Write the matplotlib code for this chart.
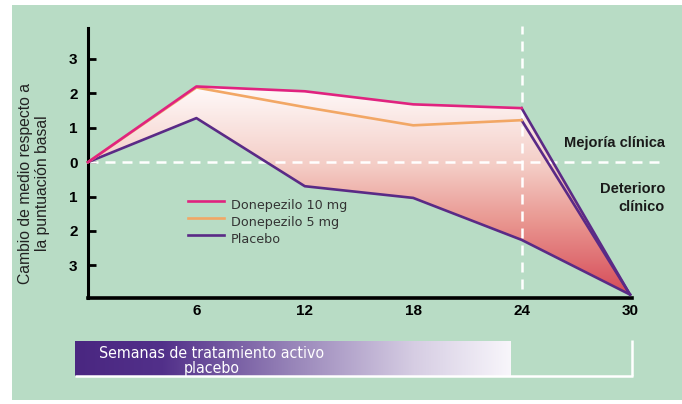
import numpy as np
import matplotlib
matplotlib.use("Agg")
import matplotlib.pyplot as plt
from matplotlib.colors import LinearSegmentedColormap
from matplotlib.patches import Rectangle
from matplotlib.legend_handler import HandlerLine2D

# ---- data ----
weeks = [0, 6, 12, 18, 24, 30]
don10 = [0, 2.2, 2.06, 1.68, 1.57, -3.85]
don5 = [0, 2.17, 1.6, 1.07, 1.22, -3.85]
placebo = [0, 1.28, -0.7, -1.04, -2.26, -3.85]
series_names = ["Donepezilo 10 mg", "Donepezilo 5 mg", "Placebo"]
ytick_vals = [3, 2, 1, 0, -1, -2, -3]
ytick_labels = ["3", "2", "1", "0", "1", "2", "3"]
xtick_vals = [6, 12, 18, 24, 30]
xtick_labels = ["6", "12", "18", "24", "30"]
active_end = 24

C10 = "#e0237f"
C5 = "#f2a765"
CP = "#5a2a86"
GREEN = "#b8dcc5"


class RaisedLineHandler(HandlerLine2D):
    """Legend line drawn a little above the text centre, as in the original."""
    def create_artists(self, legend, orig_handle, xdescent, ydescent, width,
                       height, fontsize, trans):
        arts = super().create_artists(legend, orig_handle, xdescent, ydescent,
                                      width, height, fontsize, trans)
        for a in arts:
            a.set_ydata(np.asarray(a.get_ydata(), dtype=float) + height * 0.4)
        return arts


W, H = 682, 404
fig = plt.figure(figsize=(W / 100, H / 100), dpi=100)
fig.patch.set_facecolor("white")

# background / decoration axes in pixel coordinates
ax2 = fig.add_axes([0, 0, 1, 1], zorder=0)
ax2.axis("off")
ax2.add_patch(Rectangle((12, 5), W - 12, 395, facecolor=GREEN,
                        edgecolor="none", zorder=0))
cmap2 = LinearSegmentedColormap.from_list(
    "p", [(0, "#4a2781"), (0.2, "#52308a"), (0.5, "#9885b9"),
          (0.78, "#d6cde3"), (1, "#f8f6fb")])
ax2.imshow(np.linspace(0, 1, 256).reshape(1, -1), extent=[75, 511, 376, 341],
           aspect="auto", cmap=cmap2, zorder=1)
ax2.plot([75, 633], [376, 376], color="white", lw=1.8, solid_capstyle="butt", zorder=2)
ax2.plot([632, 632], [340, 376], color="white", lw=1.8, solid_capstyle="butt", zorder=2)
ax2.text(99, 353, "Semanas de tratamiento activo", color="white",
         ha="left", va="center", fontsize=11.4, zorder=3,
         family="DejaVu Sans", fontstretch="condensed")
ax2.text(212, 368, "placebo", color="white", ha="center", va="center",
         fontsize=11.4, zorder=3, family="DejaVu Sans", fontstretch="condensed")
ax2.set_xlim(0, W)
ax2.set_ylim(H, 0)

ax = fig.add_axes([88 / W, 1 - 298 / H, 542 / W, 270 / H], zorder=1)
ax.set_facecolor("none")

# gradient fill between top treatment line and placebo
poly = ax.fill(np.r_[weeks, weeks[::-1]], np.r_[don10, placebo[::-1]],
               facecolor="none", edgecolor="none")[0]
cmap = LinearSegmentedColormap.from_list(
    "g", [(0, "#d64b58"), (0.35, "#e99690"), (0.62, "#f4cdc6"), (1, "#fffafa")])
grad = np.linspace(0, 1, 256).reshape(-1, 1)
im = ax.imshow(grad, extent=[0, 30, min(placebo), max(don10)], origin="lower",
               aspect="auto", cmap=cmap, zorder=1)
im.set_clip_path(poly)

# lines: active phase colored, after week 24 all are placebo
i = weeks.index(active_end)
lw = 1.9
lp, = ax.plot(weeks, placebo, color=CP, lw=lw, zorder=3, label=series_names[2],
              clip_on=False)
ax.plot(weeks[i:], don5[i:], color=CP, lw=lw, zorder=3, clip_on=False)
ax.plot(weeks[i:], don10[i:], color=CP, lw=lw, zorder=3, clip_on=False)
l5, = ax.plot(weeks[:i + 1], don5[:i + 1], color=C5, lw=lw, zorder=4,
              label=series_names[1], clip_on=False)
l10, = ax.plot(weeks[:i + 1], don10[:i + 1], color=C10, lw=lw, zorder=5,
               label=series_names[0], clip_on=False)

# dashed reference lines
ax.plot([0, 31.6], [0, 0], color="white", lw=1.8, ls=(0, (4, 2.8)),
        clip_on=False, zorder=2)
ax.plot([active_end, active_end], [-3.7, 3.97], color="white", lw=1.8,
        ls=(0, (4, 2.8)), clip_on=False, zorder=2)

ax.set_xlim(0, 30)
ax.set_ylim(-3.95, 3.9)
for s in ["top", "right"]:
    ax.spines[s].set_visible(False)
ax.spines["left"].set_linewidth(2.2)
ax.spines["bottom"].set_linewidth(2.6)
ax.spines["bottom"].set_bounds(0, 30.1)

ax.set_yticks(ytick_vals)
ax.set_yticklabels(ytick_labels)
ax.set_xticks(xtick_vals)
ax.set_xticklabels(xtick_labels)
ax.tick_params(axis="y", direction="in", length=6, width=2, pad=7.5)
ax.tick_params(axis="x", length=0, pad=4)
for t in ax.get_xticklabels() + ax.get_yticklabels():
    t.set_fontfamily("Liberation Sans")
    t.set_fontweight("bold")
    t.set_fontsize(11)

leg = ax.legend([l10, l5, lp], series_names, loc="upper left",
                bbox_to_anchor=((188 - 88) / 542, (298 - 199) / 270),
                frameon=False, fontsize=9.2, handlelength=2.8,
                handletextpad=0.55, labelspacing=0.32, borderpad=0,
                borderaxespad=0,
                handler_map={l10: RaisedLineHandler(), l5: RaisedLineHandler(),
                             lp: RaisedLineHandler()})
for t in leg.get_texts():
    t.set_color("#333333")

# y label
fig.text(34 / W, 1 - 183 / H, "Cambio de medio respecto a\nla puntuación basal",
         rotation=90, ha="center", va="center", fontsize=11.3,
         family="Liberation Sans", color="#222222", linespacing=1.1)

# annotations
fig.text(614 / W, 1 - 143 / H, "Mejoría clínica", ha="center", va="center",
         fontsize=10.5, fontweight="bold", family="Liberation Sans", color="#1a1a1a")
fig.text(665 / W, 1 - 198 / H, "Deterioro\nclínico", ha="right", va="center",
         fontsize=10.5, fontweight="bold", family="Liberation Sans", color="#1a1a1a",
         multialignment="right", linespacing=1.35)

fig.savefig("out.png", dpi=100)
